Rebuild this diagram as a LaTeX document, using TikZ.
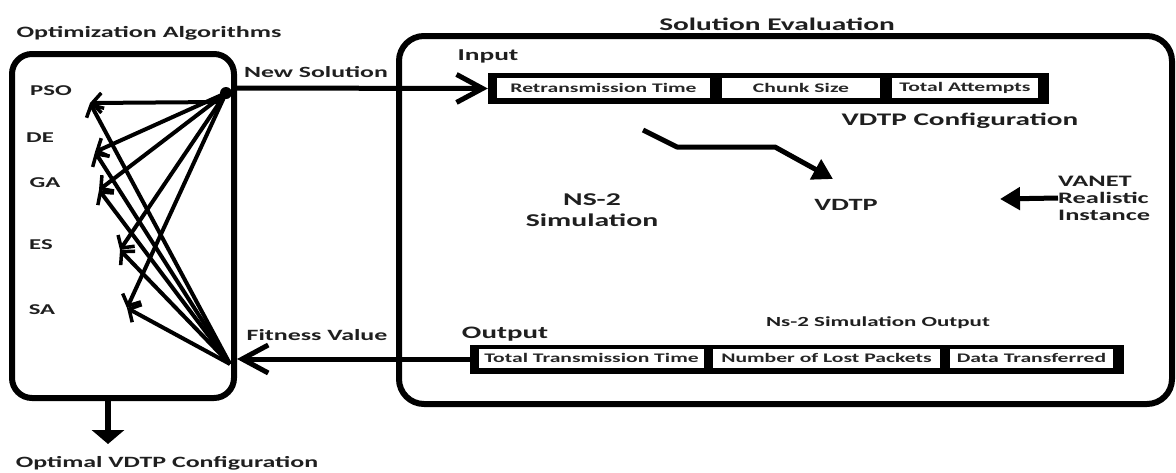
\documentclass[tikz,border=0pt]{standalone}
\usepackage{fontspec}
\newfontfamily\cf{Carlito}[FakeStretch=1.65]
\usetikzlibrary{arrows.meta}
\begin{document}
\begin{tikzpicture}[x=1pt,y=-1pt,
  txt/.style={font=\cf\bfseries\fontsize{#1}{#1}\selectfont, inner sep=0pt, text=black!88},
  frame/.style={draw, line width=6pt, rounded corners=#1, inner sep=0pt},
  cell/.style={fill=white, inner sep=0pt, minimum height=#1, font=\cf\bfseries\fontsize{13.1}{13}\selectfont, text=black!85},
  bar/.style={fill=black, inner sep=0pt},
  fan/.style={line width=4pt, -{Straight Barb[length=9pt,width=20pt,line width=3.5pt]}},
  bigarrow/.style={line width=5pt, -{Straight Barb[length=26pt,width=28pt,line width=5pt]}},
  solid arrow/.style={line width=5pt, -{Triangle[length=20pt,width=22pt]}},
]
\useasboundingbox (0,0) rectangle (1176,472);

% titles
\node[txt=15.8] (optalg) at (149,33) {Optimization Algorithms};
\node[txt=17.8] (solev) at (777,24) {Solution Evaluation};

% left box
\node[frame=20, minimum width=222pt, minimum height=344pt] (left) at (123,226) {};
\node[txt=15] (pso) at (51,91) {PSO};
\node[txt=15] (de) at (40,138) {DE};
\node[txt=15] (ga) at (45,183) {GA};
\node[txt=15] (es) at (41,245) {ES};
\node[txt=15] (sa) at (42,310) {SA};

% right box
\node[frame=25, minimum width=773pt, minimum height=368pt] (right) at (785.5,220) {};

% input
\node[txt=16.6] (input) at (488,56) {Input};
\node[bar, minimum width=561pt, minimum height=31pt] (inbox) at (768.5,88.5) {};
\node[cell=20pt, minimum width=213pt] (rt) at (603.5,88) {Retransmission Time};
\node[cell=20pt, minimum width=158pt] (cs) at (801,88) {Chunk Size};
\node[cell=20pt, minimum width=146pt] (ta) at (965,88) {Total Attempts};
\node[txt=17.7] (vcfg) at (960,121) {VDTP Configuration};

% middle
\node[txt=18, align=center] (ns2) at (592,210) {NS-2\\[3pt]Simulation};
\node[txt=17.2] (vdtp) at (846,205) {VDTP};
\node[txt=16, align=left, anchor=west] (vanet) at (1058,198) {VANET\\[1pt]Realistic\\[1pt]Instance};

% output
\node[txt=17.5] (output) at (505,334) {Output};
\node[txt=13.9] (nsout) at (878,323) {Ns-2 Simulation Output};
\node[bar, minimum width=654pt, minimum height=29pt] (outbox) at (797,359) {};
\node[cell=19pt, minimum width=225pt] (ttt) at (591.5,358) {Total Transmission Time};
\node[cell=19pt, minimum width=227pt] (nlp) at (826.5,358) {Number of Lost Packets};
\node[cell=19pt, minimum width=163pt] (dt) at (1031.5,358) {Data Transferred};

% side labels
\node[txt=15.6] (newsol) at (316,72) {New Solution};
\node[txt=15.7] (fit) at (317,335) {Fitness Value};
\node[txt=15.7, anchor=base] (optcfg) at (167,467) {Optimal VDTP Configuration};

% coordinates
\coordinate (T) at (226,93);
\coordinate (T2) at (220,102);
\coordinate (B) at (230,364);
\coordinate (tpso) at (90,103);
\coordinate (tde) at (95,152);
\coordinate (tga) at (99,190);
\coordinate (tes) at (120,250);
\coordinate (tsa) at (127,308);
\coordinate (nsstart) at (234,88);
\coordinate (cfgstart) at (643,130);
\coordinate (vdtpin) at (833,179);
\coordinate (vdtpright) at (1000,199);
\coordinate (lbot) at (108,398);
\coordinate (optin) at (108,444);

% fan arrows
\draw[fan] (T2) -- (tpso);
\draw[fan] (T) -- (tde);
\draw[fan] (T) -- (tga);
\draw[fan] (T) -- (tes);
\draw[fan] (T) -- (tsa);
\draw[fan] (B) -- (tpso);
\draw[fan] (B) -- (tde);
\draw[fan] (B) -- (tga);
\draw[fan] (B) -- (tes);
\draw[fan] (B) -- (tsa);
\fill (T) circle (6pt);

% connectors
\draw[bigarrow] (nsstart) -- (inbox.west);
\draw[bigarrow] (outbox.west) -- (outbox.west -| left.east);
\draw[solid arrow, line join=round] (cfgstart) -- (677,147) -- (775,147) -- (vdtpin);
\draw[solid arrow] (vanet.west) -- (vdtpright);
\draw[line width=6pt, -{Triangle[length=14pt,width=32pt]}] (lbot) -- (optin);
\end{tikzpicture}
\end{document}
